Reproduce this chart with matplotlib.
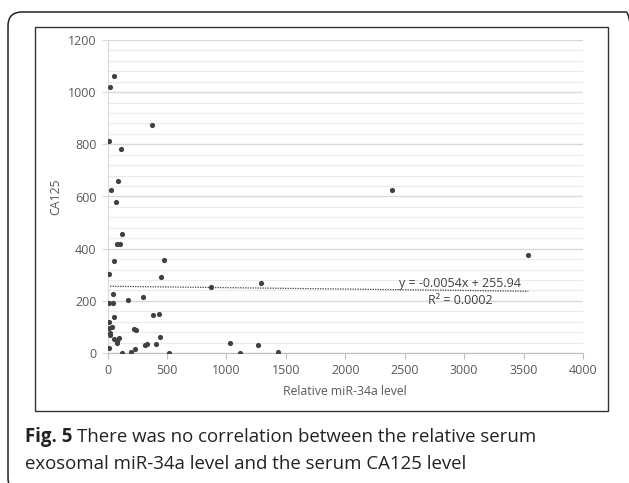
import matplotlib
matplotlib.use('Agg')
import matplotlib.pyplot as plt
import matplotlib.patches as mpatches
import numpy as np

# data (relative miR-34a level vs CA125)
mir34a = [54, 23, 376, 14, 110, 90, 29, 68, 2392, 118, 79, 107, 57, 474, 3540,
          10, 452, 1290, 874, 48, 298, 169, 12, 44, 53, 385, 432, 11, 34, 8,
          18, 21, 218, 236, 441, 96, 54, 76, 80, 13, 117, 198, 227, 315, 331,
          404, 514, 1034, 1114, 1269, 1435]
ca125 = [1061, 1021, 873, 812, 781, 659, 625, 579, 625, 457, 417, 419, 354, 358, 377,
         302, 290, 268, 253, 226, 216, 202, 192, 193, 138, 146, 150, 118, 101, 97,
         76, 70, 92, 87, 60, 58, 52, 45, 37, 20, 1, 3, 14, 29, 34,
         33, 1, 38, 1, 29, 4]
slope, intercept = -0.0054, 255.94
eq_text = 'y = -0.0054x + 255.94'
r2_text = 'R² = 0.0002'
x_ticks = [0, 500, 1000, 1500, 2000, 2500, 3000, 3500, 4000]
y_ticks = [0, 200, 400, 600, 800, 1000, 1200]

W, H = 629, 483
fig = plt.figure(figsize=(W / 100, H / 100), dpi=100)
plt.rcParams['font.family'] = ['Open Sans', 'DejaVu Sans']

# axes placed in pixel terms of the reference
x0, x1, ytop, ybot = 107.6, 583, 40, 353
ax = fig.add_axes([x0 / W, 1 - ybot / H, (x1 - x0) / W, (ybot - ytop) / H])

ax.set_xlim(0, 4000)
ax.set_ylim(0, 1200)
ax.set_xticks(x_ticks)
ax.set_yticks(y_ticks)
ax.set_yticks(np.arange(0, 1201, 40), minor=True)
ax.grid(True, which='major', axis='y', color='#d9d9d9', lw=1.0)
ax.grid(True, which='minor', axis='y', color='#ebebeb', lw=0.8)
ax.set_axisbelow(True)
ax.tick_params(axis='y', which='minor', length=0)
ax.tick_params(axis='both', which='major', labelsize=9, labelcolor='#595959',
               color='#d9d9d9', length=4, width=0.8, pad=4)
ax.tick_params(axis='x', color='#bfbfbf')
for s in ['top', 'right']:
    ax.spines[s].set_visible(False)
ax.spines['left'].set_color('#d9d9d9')
ax.spines['bottom'].set_color('#bfbfbf')

ax.scatter(mir34a, ca125, s=14, color='#404040', zorder=3, linewidths=0)

# linear trend line over the data range
xs = np.array([0, max(mir34a)])
ax.plot(xs, slope * xs + intercept, ls=(0, (1, 1)), color='#404040', lw=0.9, zorder=2)
ax.text(2965, 265, eq_text, ha='center', va='center', fontsize=9, color='#404040')
ax.text(2965, 203, r2_text, ha='center', va='center', fontsize=9, color='#404040')

ax.set_xlabel('Relative miR-34a level', fontsize=8.8, color='#595959', labelpad=6)
ax.set_ylabel('CA125', fontsize=8.8, color='#595959', labelpad=4)

# frames (display pixel coordinates)
outer = mpatches.FancyBboxPatch((8, -9), 632, 480, boxstyle='round,pad=0,rounding_size=14',
                                fill=False, ec='#222222', lw=1.1, transform=None)
fig.patches.append(outer)
inner = mpatches.Rectangle((35, H - 411), 573, 384, fill=False, ec='#333333', lw=1.0,
                           transform=None)
fig.patches.append(inner)

# caption
r = fig.canvas.get_renderer()
t = fig.text(25 / W, 1 - 437 / H, 'Fig. 5', fontsize=13.4, fontweight='bold', va='center',
             color='#222222')
bb = t.get_window_extent(renderer=r)
fig.text((bb.x1 + 5) / W, 1 - 437 / H, 'There was no correlation between the relative serum',
         fontsize=13.4, va='center', color='#222222')
fig.text(25 / W, 1 - 464 / H, 'exosomal miR-34a level and the serum CA125 level',
         fontsize=13.4, va='center', color='#222222')

fig.savefig('out.png', dpi=100)
